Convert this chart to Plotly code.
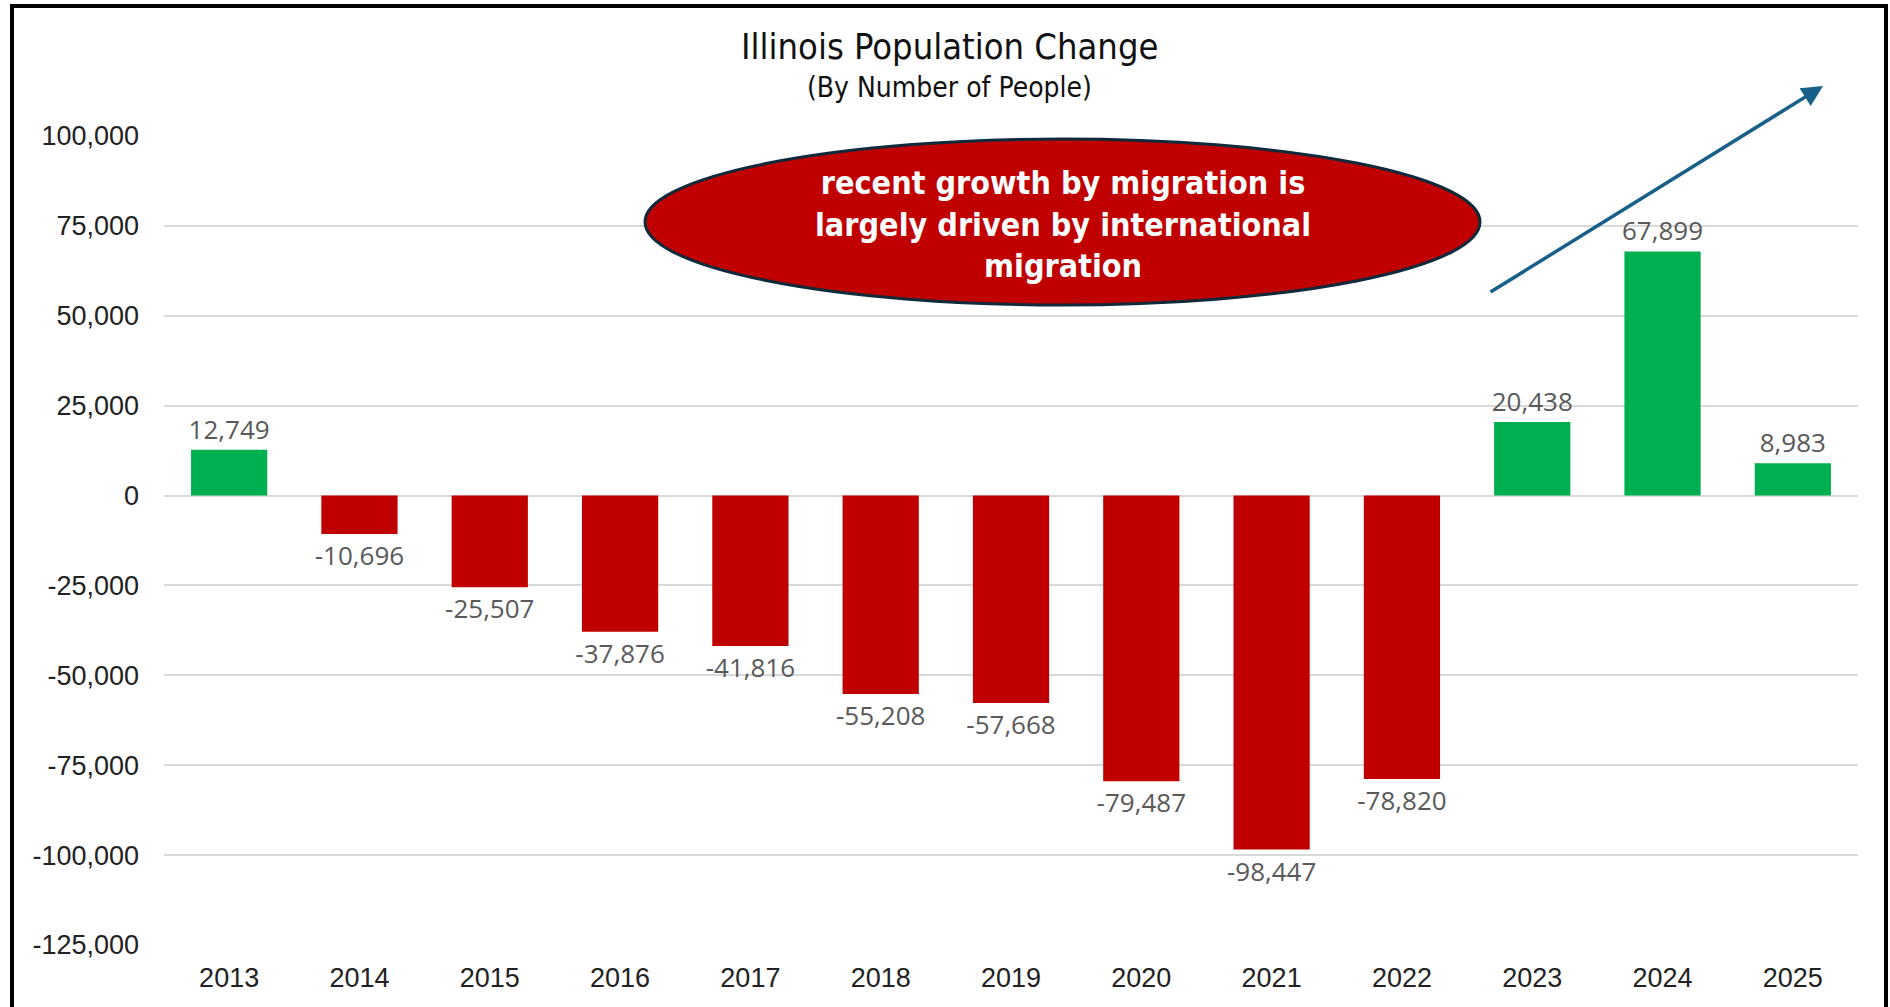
import plotly.graph_objects as go

years = ["2013", "2014", "2015", "2016", "2017", "2018", "2019", "2020", "2021", "2022", "2023", "2024", "2025"]
changes = [12749, -10696, -25507, -37876, -41816, -55208, -57668, -79487, -98447, -78820, 20438, 67899, 8983]
tick_vals = [100000, 75000, 50000, 25000, 0, -25000, -50000, -75000, -100000, -125000]
tick_text = ["100,000", "75,000", "50,000", "25,000", "0", "-25,000", "-50,000", "-75,000", "-100,000", "-125,000"]

GREEN = "#00B050"
RED = "#C00000"
colors = [GREEN if v >= 0 else RED for v in changes]
labels = [f"{v:,}" for v in changes]

W, H = 1890, 1007
L, R, T, B = 164, 1858, 136, 945


def px(x):
    return (x - L) / (R - L)


def py(y):
    return (B - y) / (B - T)


fig = go.Figure()
fig.add_trace(go.Bar(
    x=years, y=changes, marker=dict(color=colors, line=dict(width=0)),
    text=labels, textposition="outside", cliponaxis=False, constraintext="none",
    textfont=dict(family="Open Sans, Liberation Sans, sans-serif", size=26, color="#595959"),
    hoverinfo="x+y",
))

fig.update_layout(
    width=W, height=H,
    margin=dict(l=L, r=W - R, t=T, b=H - B, pad=0),
    paper_bgcolor="white", plot_bgcolor="white",
    bargap=0.415, showlegend=False,
    xaxis=dict(showgrid=False, showline=False, ticks="", zeroline=False, ticklabelstandoff=14,
               tickfont=dict(family="Liberation Sans, Arial, sans-serif", size=27, color="#222222")),
    yaxis=dict(range=[-125000, 100000], tickvals=tick_vals, ticktext=tick_text,
               showgrid=True, gridcolor="#D9D9D9", gridwidth=2,
               zeroline=True, zerolinecolor="#D9D9D9", zerolinewidth=2,
               showline=False, ticks="", ticklabelstandoff=24,
               tickfont=dict(family="Liberation Sans, Arial, sans-serif", size=27, color="#222222")),
)

# outer frame
fig.add_shape(type="rect", xref="paper", yref="paper",
              x0=px(12), x1=px(1886), y0=py(1040), y1=py(6),
              line=dict(color="black", width=4), fillcolor="rgba(0,0,0,0)", layer="above")

# titles
fig.add_annotation(xref="paper", yref="paper", x=px(949), y=py(47), text="Illinois Population Change",
                   showarrow=False, xanchor="center", yanchor="middle",
                   font=dict(family="Liberation Sans Narrow, DejaVu Sans Condensed, sans-serif", size=36, color="#111111"))
fig.add_annotation(xref="paper", yref="paper", x=px(949), y=py(88), text="(By Number of People)",
                   showarrow=False, xanchor="center", yanchor="middle",
                   font=dict(family="Liberation Sans Narrow, DejaVu Sans Condensed, sans-serif", size=28, color="#111111"))

# ellipse callout
fig.add_shape(type="circle", xref="paper", yref="paper",
              x0=px(645), x1=px(1480), y0=py(305), y1=py(139),
              fillcolor=RED, line=dict(color="#0E2A3B", width=3), layer="above")
fig.add_annotation(xref="paper", yref="paper", x=px(1063), y=py(224),
                   text="recent growth by migration is<br>largely driven by international<br>migration",
                   showarrow=False, xanchor="center", yanchor="middle", align="center",
                   font=dict(family="Liberation Sans Narrow, DejaVu Sans Condensed, sans-serif", size=32, color="white", weight="bold"))

# arrow
fig.add_annotation(xref="paper", yref="paper", x=px(1823), y=py(86),
                   axref="pixel", ayref="pixel", ax=1489 - 1823, ay=293 - 86,
                   text="", showarrow=True, arrowhead=2, arrowsize=1.2, arrowwidth=3.5,
                   arrowcolor="#18608A")

fig.write_html(
    "out.html",
    config={"displayModeBar": False},
    post_script="document.body.style.margin='0';document.body.style.overflow='hidden';",
)
